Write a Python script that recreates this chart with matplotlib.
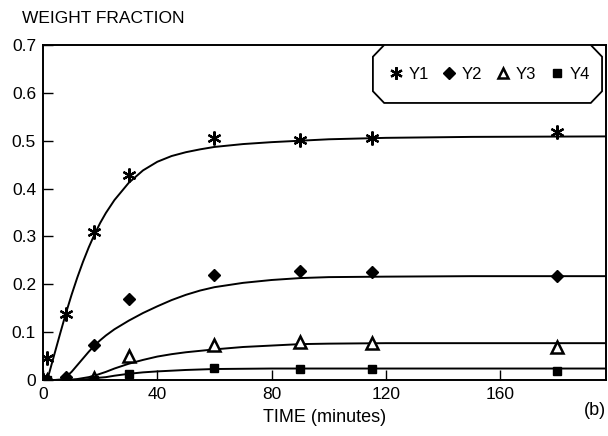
import matplotlib
matplotlib.use('Agg')
import matplotlib.pyplot as plt
from matplotlib.patches import Polygon

plt.rcParams['font.family'] = ['Liberation Sans', 'DejaVu Sans']

# measured points
t_pts = [0, 1.5, 8, 18, 30, 60, 90, 115, 180]
y1_pts = [0, 0.047, 0.137, 0.31, 0.428, 0.505, 0.501, 0.505, 0.518]
y2_pts = [0, 0, 0.007, 0.073, 0.169, 0.22, 0.227, 0.225, 0.218]
y3_pts = [0, 0, 0, 0.005, 0.05, 0.073, 0.079, 0.078, 0.07]
y4_pts = [0, 0, 0, 0, 0.013, 0.025, 0.024, 0.022, 0.019]

# fitted curves
t_fit = [0, 1.5, 4, 6, 8, 10, 12, 14, 16, 18, 20, 22, 25, 30, 35, 40, 45, 50, 55, 60,
         70, 80, 90, 100, 120, 150, 197]
y1_fit = [0, 0, 0.054, 0.097, 0.139, 0.178, 0.214, 0.247, 0.277, 0.304, 0.328, 0.349, 0.376,
          0.412, 0.438, 0.456, 0.468, 0.476, 0.482, 0.487, 0.493, 0.497, 0.500, 0.503, 0.506,
          0.508, 0.509]
y2_fit = [0, 0, 0, 0.001, 0.006, 0.017, 0.031, 0.045, 0.059, 0.072, 0.083, 0.093, 0.106,
          0.124, 0.140, 0.154, 0.167, 0.178, 0.187, 0.194, 0.203, 0.209, 0.213, 0.215, 0.216,
          0.217, 0.217]
y3_fit = [0, 0, 0, 0, 0, 0.001, 0.002, 0.004, 0.006, 0.009, 0.013, 0.017, 0.024, 0.034,
          0.042, 0.049, 0.054, 0.058, 0.061, 0.064, 0.069, 0.072, 0.075, 0.076, 0.077, 0.077,
          0.077]
y4_fit = [0, 0, 0, 0, 0, 0, 0, 0.001, 0.002, 0.003, 0.005, 0.006, 0.009, 0.013, 0.016,
          0.018, 0.0195, 0.021, 0.022, 0.023, 0.0235, 0.024, 0.024, 0.024, 0.024, 0.024, 0.024]

labels = ['Y1', 'Y2', 'Y3', 'Y4']
xticks = [0, 40, 80, 120, 160]
yticks = [0, 0.1, 0.2, 0.3, 0.4, 0.5, 0.6, 0.7]
ytick_labels = ['0', '0.1', '0.2', '0.3', '0.4', '0.5', '0.6', '0.7']

fig = plt.figure(figsize=(6.08, 4.36), dpi=100)
ax = fig.add_axes([0.0707, 0.1284, 0.926, 0.7684])

for yf in [y1_fit, y2_fit, y3_fit, y4_fit]:
    ax.plot(t_fit, yf, color='black', lw=1.4, zorder=2)

h1, = ax.plot(t_pts, y1_pts, ls='none', marker=(6, 2, 0), ms=10, mec='black', mew=1.6, color='black', zorder=3)
h2, = ax.plot(t_pts, y2_pts, ls='none', marker='D', ms=6.5, color='black', zorder=3)
h3, = ax.plot(t_pts, y3_pts, ls='none', marker='^', ms=8.5, mfc='white', mec='black', mew=1.8, zorder=3)
h4, = ax.plot(t_pts, y4_pts, ls='none', marker='s', ms=6, color='black', zorder=3)

ax.set_xlim(0, 197)
ax.set_ylim(0, 0.7)
ax.set_xticks(xticks)
ax.set_yticks(yticks)
ax.set_yticklabels(ytick_labels)
ax.tick_params(direction='in', length=7, width=1, labelsize=12.5, pad=5)
for s in ax.spines.values():
    s.set_linewidth(1.4)

ax.set_xlabel('TIME (minutes)', fontsize=13, labelpad=5)
fig.text(0.036, 0.958, 'WEIGHT FRACTION', fontsize=12.5, ha='left', va='center')
fig.text(0.997, 0.058, '(b)', fontsize=13, ha='right', va='center')

leg = ax.legend([h1, h2, h3, h4], labels, ncol=4, frameon=False, loc='center',
                bbox_to_anchor=(0.79, 0.913), fontsize=12, handletextpad=0.15,
                columnspacing=0.65, handlelength=1.2, markerscale=0.9)

# beveled legend box
x0, x1, y0, y1 = 0.586, 0.993, 0.827, 1.0
dx, dy = 0.02, 0.035
box = Polygon([(x0 + dx, y1), (x1 - dx, y1), (x1, y1 - dy), (x1, y0 + dy),
               (x1 - dx, y0), (x0 + dx, y0), (x0, y0 + dy), (x0, y1 - dy)],
              closed=True, transform=ax.transAxes, fill=True, facecolor='white',
              edgecolor='black', lw=1.3, zorder=4)
ax.add_patch(box)
leg.set_zorder(5)

fig.savefig('out.png', dpi=100)
